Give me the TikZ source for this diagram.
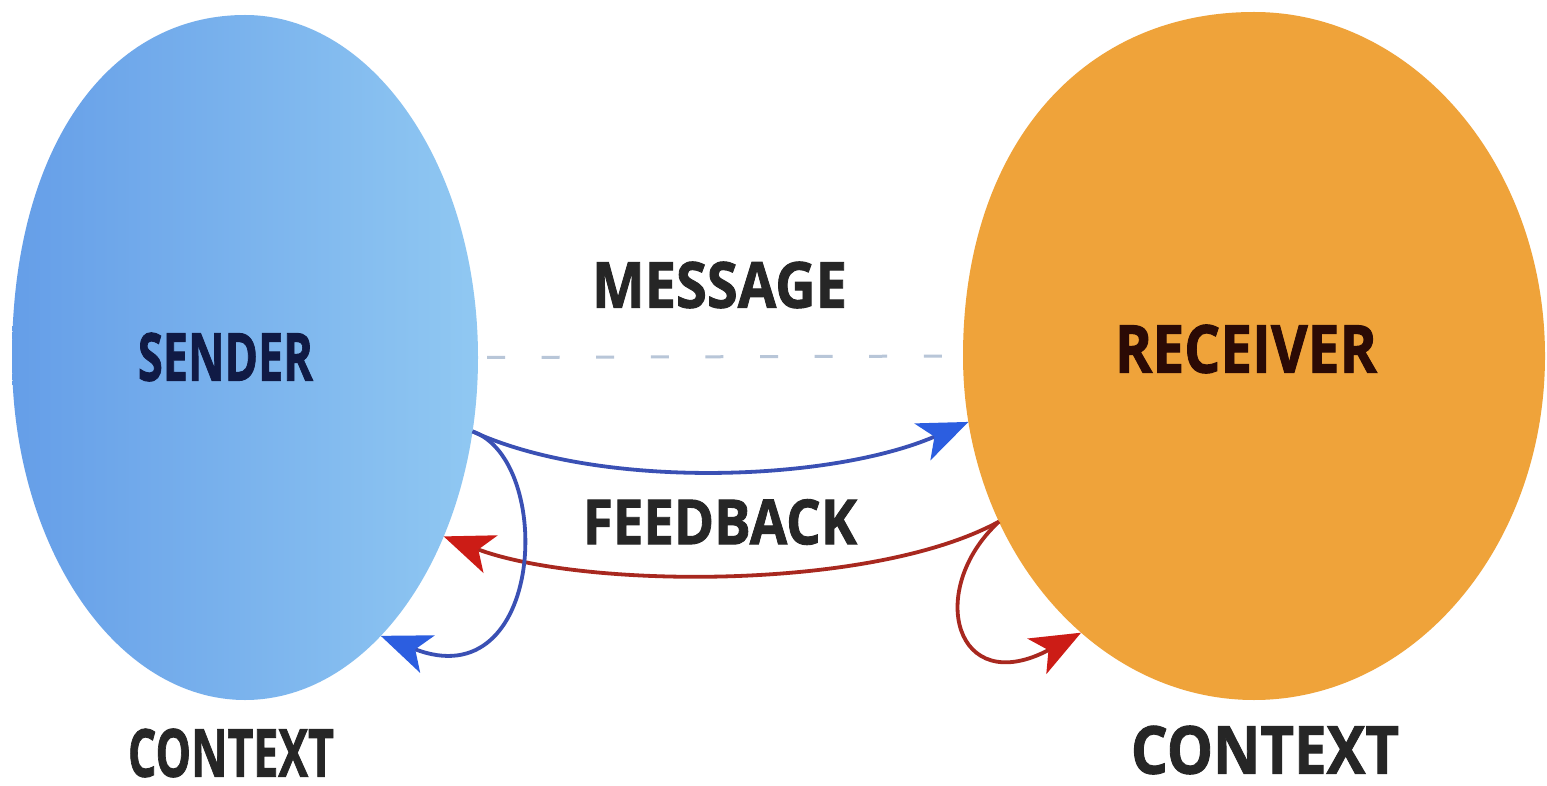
\documentclass[tikz,border=0pt]{standalone}
\usepackage{fontspec}
\usepackage{graphicx}
\setmainfont{Open Sans}[BoldFeatures={FakeBold=1.5}]
\usetikzlibrary{shapes.geometric,arrows.meta}
\definecolor{sblueA}{HTML}{659EE8}
\definecolor{sblueB}{HTML}{90C8F2}
\definecolor{rorange}{HTML}{EFA33A}
\definecolor{lineblue}{HTML}{3A50B4}
\definecolor{headblue}{HTML}{2C5EE0}
\definecolor{linered}{HTML}{A8281F}
\definecolor{headred}{HTML}{CC1C16}
\definecolor{msggrey}{HTML}{B8C6D8}
\definecolor{navytext}{HTML}{101A45}
\definecolor{browntext}{HTML}{2B0A05}
\definecolor{darktext}{HTML}{262626}
\newcommand{\fitlabel}[3]{\resizebox{#1}{#2}{\bfseries #3}}
\tikzset{
  blob/.style={ellipse, inner sep=0pt, outer sep=0pt},
  lbl/.style={inner sep=0pt, outer sep=0pt, anchor=center},
  bluearrow/.style={draw=lineblue, line width=3.8pt,
    -{Stealth[length=50pt,width=40pt,inset=13pt,color=headblue]}},
  redarrow/.style={draw=linered, line width=3.8pt,
    -{Stealth[length=50pt,width=40pt,inset=13pt,color=headred]}},
  msgline/.style={draw=msggrey, line width=3pt, dash pattern=on 18pt off 36.6pt}
}
\begin{document}
\begin{tikzpicture}[x=1pt,y=-1pt]
\useasboundingbox (0,0) rectangle (1547,786);
\fill[white] (0,0) rectangle (1547,786);
% blob fills (upper-left quadrant a little fuller than an ellipse)
\shade[left color=sblueA, right color=sblueB]
  (478,357.5) .. controls (478,168.3) and (373.7,15) .. (245,15)
  .. controls (105.2,15) and (12,152) .. (12,357.5)
  .. controls (12,546.7) and (116.3,700) .. (245,700)
  .. controls (373.7,700) and (478,546.7) .. (478,357.5) -- cycle;
\fill[rorange]
  (1545,356) .. controls (1545,166) and (1414.7,12) .. (1254,12)
  .. controls (1079.4,12) and (963,149.6) .. (963,356)
  .. controls (963,546) and (1093.3,700) .. (1254,700)
  .. controls (1414.7,700) and (1545,546) .. (1545,356) -- cycle;
% named ellipses (outlines for the connectors)
\node[blob, minimum width=466pt, minimum height=685pt] (S) at (245,357.5) {};
\node[blob, minimum width=582pt, minimum height=688pt] (R) at (1254,356) {};
% labels
\node[lbl, text=navytext] (st) at (225.5,357) {\fitlabel{175pt}{48pt}{SENDER}};
\node[lbl, text=browntext] (rt) at (1246,349) {\fitlabel{262pt}{48pt}{RECEIVER}};
\node[lbl, text=darktext] (mt) at (719.5,285) {\fitlabel{255pt}{46pt}{MESSAGE}};
\node[lbl, text=darktext] (ft) at (720,522) {\fitlabel{274pt}{45pt}{FEEDBACK}};
\node[lbl, text=darktext] (cl) at (231,753) {\fitlabel{206pt}{48pt}{CONTEXT}};
\node[lbl, text=darktext] (cr) at (1265,750) {\fitlabel{268pt}{48pt}{CONTEXT}};
% message line
\draw[msgline, shorten <=9pt, shorten >=21pt] (S.east) -- (R.west);
% arrows
\draw[bluearrow] (S.-18) .. controls (600,490) and (830,482) .. (R.193.6);
\draw[redarrow] (R.213.7) .. controls (870,592) and (580,588) .. (S.-42.6);
\draw[bluearrow] (S.-18) .. controls (555,460) and (545,700) .. (S.-64.7);
\draw[redarrow] (R.213.7) .. controls (925,590) and (955,700) .. (R.238.5);
\end{tikzpicture}
\end{document}
